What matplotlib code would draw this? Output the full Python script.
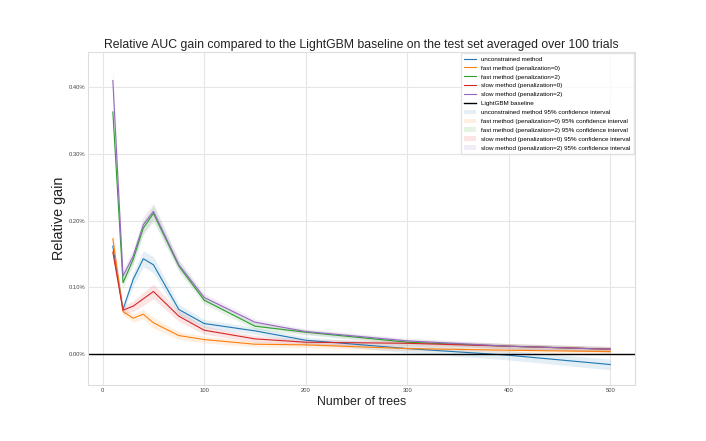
import matplotlib
matplotlib.use("Agg")
import matplotlib.pyplot as plt
from matplotlib.ticker import FuncFormatter

plt.rcParams['font.family'] = ['Liberation Sans', 'DejaVu Sans']

# number of trees
n_trees = [10, 20, 30, 40, 50, 75, 100, 150, 200, 300, 400, 500]

# mean relative gain (in %)
unconstrained = [0.162, 0.067, 0.112, 0.143, 0.134, 0.067, 0.046, 0.035, 0.021, 0.0085, -0.0015, -0.0154]
fast_pen0 = [0.173, 0.064, 0.054, 0.060, 0.047, 0.028, 0.022, 0.015, 0.014, 0.0085, 0.006, 0.004]
fast_pen2 = [0.363, 0.107, 0.142, 0.189, 0.211, 0.132, 0.081, 0.042, 0.033, 0.018, 0.012, 0.0075]
slow_pen0 = [0.153, 0.066, 0.072, 0.083, 0.094, 0.057, 0.036, 0.023, 0.018, 0.0164, 0.012, 0.0075]
slow_pen2 = [0.410, 0.117, 0.147, 0.194, 0.214, 0.134, 0.085, 0.048, 0.034, 0.020, 0.012, 0.0075]

# 95% confidence interval half widths (in %)
ci_unconstrained = [0.010, 0.005, 0.010, 0.012, 0.012, 0.008, 0.006, 0.005, 0.005, 0.006, 0.007, 0.008]
ci_fast_pen0 = [0.012, 0.005, 0.006, 0.007, 0.008, 0.006, 0.005, 0.004, 0.004, 0.003, 0.003, 0.003]
ci_fast_pen2 = [0.015, 0.008, 0.008, 0.010, 0.012, 0.008, 0.006, 0.005, 0.004, 0.004, 0.004, 0.004]
ci_slow_pen0 = [0.010, 0.006, 0.008, 0.010, 0.011, 0.008, 0.006, 0.005, 0.004, 0.004, 0.004, 0.004]
ci_slow_pen2 = [0.020, 0.010, 0.010, 0.012, 0.012, 0.008, 0.006, 0.005, 0.004, 0.004, 0.004, 0.004]

series = [
    ("unconstrained method", unconstrained, ci_unconstrained, "#1f77b4"),
    ("fast method (penalization=0)", fast_pen0, ci_fast_pen0, "#ff7f0e"),
    ("fast method (penalization=2)", fast_pen2, ci_fast_pen2, "#2ca02c"),
    ("slow method (penalization=0)", slow_pen0, ci_slow_pen0, "#d62728"),
    ("slow method (penalization=2)", slow_pen2, ci_slow_pen2, "#9467bd"),
]

fig = plt.figure(figsize=(7.06, 4.41), dpi=100, facecolor='white')
ax = fig.add_axes([0.1246, 0.127, 0.775, 0.755])
ax.set_facecolor('white')

line_handles = []
fill_handles = []
for name, vals, ci, color in series:
    h, = ax.plot(n_trees, vals, color=color, linewidth=0.8, label=name)
    line_handles.append(h)
    lo = [v - c for v, c in zip(vals, ci)]
    hi = [v + c for v, c in zip(vals, ci)]
    f = ax.fill_between(n_trees, lo, hi, color=color, alpha=0.12, linewidth=0,
                        label=name + " 95% confidence interval")
    fill_handles.append(f)

base = ax.axhline(0, color='black', linewidth=1.0, label='LightGBM baseline')

ax.yaxis.set_major_formatter(FuncFormatter(lambda v, p: f"{v:.2f}%"))
ax.set_xticks([0, 100, 200, 300, 400, 500])
ax.set_yticks([0.0, 0.1, 0.2, 0.3, 0.4])

ax.grid(True, color='#e6e6e6', linewidth=0.8)
ax.set_axisbelow(True)
for spine in ax.spines.values():
    spine.set_edgecolor('#dddddd')
    spine.set_linewidth(0.8)
ax.tick_params(labelsize=4.2, colors='#444444', length=0, pad=2)

ax.set_title('Relative AUC gain compared to the LightGBM baseline on the test set averaged over 100 trials',
             fontsize=8.8, color='#222222', pad=3)
ax.set_xlabel('Number of trees', fontsize=8.9, color='#222222', labelpad=2)
ax.set_ylabel('Relative gain', fontsize=10.4, color='#222222', labelpad=2)

ax.legend(handles=line_handles + [base] + fill_handles, loc='upper right', fontsize=4.5,
          handlelength=2.0, labelspacing=0.56, frameon=True, edgecolor='#dddddd',
          fancybox=False, framealpha=0.8, borderpad=0.5, borderaxespad=0.2)

fig.savefig('out.png', dpi=100, facecolor='white')
